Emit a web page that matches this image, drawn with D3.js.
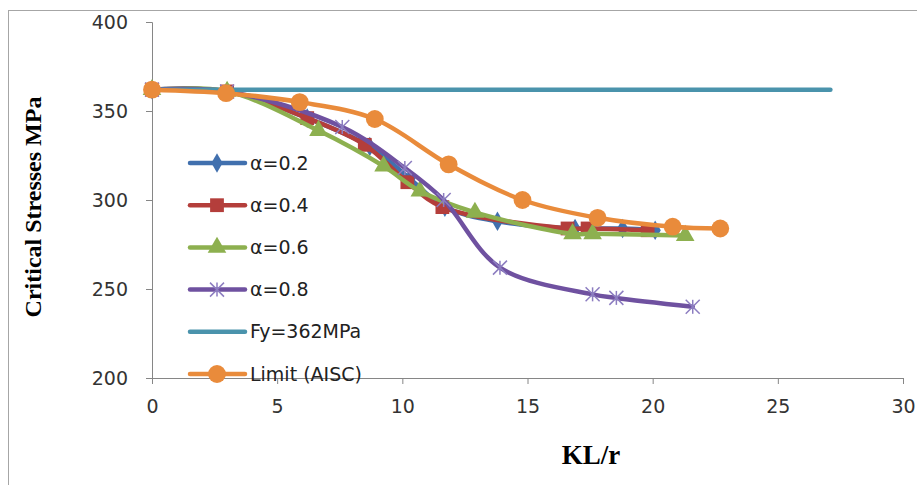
<!DOCTYPE html>
<html>
<head>
<meta charset="utf-8">
<script src="https://cdn.jsdelivr.net/npm/d3@7"></script>
<style>
  body { margin: 0; background: #fff; }
  svg { display: block; }
</style>
</head>
<body>
<div id="chart"></div>
<script>
// series data (KL/r, critical stress MPa)
var a02 = [[0, 362], [3, 361], [6.2, 346], [8.7, 330], [10.3, 312], [11.7, 296], [13.8, 288], [16.9, 284], [18.8, 284], [20.1, 283]];
var a04 = [[0, 362], [3, 361], [6.2, 346], [8.5, 331], [10.2, 310], [11.6, 296], [16.6, 284], [17.4, 284], [19.8, 283]];
var a06 = [[0, 362], [3, 361], [6.65, 339], [9.25, 319], [10.7, 305], [12.9, 293], [16.8, 281], [17.6, 281], [21.3, 280]];
var a08 = [[0, 362], [3, 361], [7.6, 341], [10.1, 318], [11.65, 300], [13.9, 262], [17.6, 247], [18.55, 245], [21.6, 240]];
var fy = [[0, 362], [27.1, 362]];
var aisc = [[0, 362], [2.96, 360], [5.9, 355], [8.9, 345.5], [11.85, 320], [14.8, 300], [17.8, 290], [20.8, 285], [22.7, 284]];

var names = ['α=0.2', 'α=0.4', 'α=0.6', 'α=0.8', 'Fy=362MPa', 'Limit (AISC)'];
var colors = ['#4170AE', '#B43E3B', '#8DB04F', '#6F51A0', '#4A93AC', '#E98B3B'];
var symbols = ['diamond', 'square', 'triangle', 'asterisk', 'none', 'circle'];
var xTicks = [0, 5, 10, 15, 20, 25, 30];
var yTicks = [200, 250, 300, 350, 400];

var width = 917, height = 485;

var svg = d3.select('#chart').append('svg')
  .attr('width', width)
  .attr('height', height);

// outer frame
svg.append('rect')
  .attr('x', 8.5).attr('y', 10.5)
  .attr('width', 920).attr('height', 490)
  .attr('fill', 'none')
  .attr('stroke', '#a6a6a6');

var x = d3.scaleLinear().domain([0, 30]).range([152, 903]);
var y = d3.scaleLinear().domain([200, 400]).range([378, 22]);

// axes
var xAxis = svg.append('g')
  .attr('transform', 'translate(0,378)')
  .call(d3.axisBottom(x).tickValues(xTicks).tickSize(6).tickPadding(16).tickFormat(d3.format('d')));
var yAxis = svg.append('g')
  .attr('transform', 'translate(152,0)')
  .call(d3.axisLeft(y).tickValues(yTicks).tickSize(6).tickPadding(18).tickFormat(d3.format('d')));

[xAxis, yAxis].forEach(function (ax) {
  ax.select('.domain').attr('stroke', '#868686');
  ax.selectAll('.tick line').attr('stroke', '#868686');
  ax.selectAll('.tick text')
    .attr('fill', '#333')
    .style('font-family', '"DejaVu Sans", sans-serif')
    .style('font-size', '19px');
});
yAxis.selectAll('.tick text').attr('dy', '0.35em');

// axis titles
svg.append('text')
  .attr('transform', 'translate(41,207) rotate(-90)')
  .attr('text-anchor', 'middle')
  .style('font-family', '"Liberation Serif", serif')
  .style('font-weight', 'bold')
  .style('font-size', '24px')
  .text('Critical  Stresses MPa');

svg.append('text')
  .attr('x', 591).attr('y', 464)
  .attr('text-anchor', 'middle')
  .style('font-family', '"Liberation Serif", serif')
  .style('font-weight', 'bold')
  .style('font-size', '27px')
  .text('KL/r');

var line = d3.line()
  .x(function (d) { return x(d[0]); })
  .y(function (d) { return y(d[1]); })
  .curve(d3.curveCatmullRom.alpha(0.5));

function marker(g, type, color, cx, cy) {
  if (type == 'none') return;
  if (type == 'asterisk') {
    var r = 7;
    [[-r, -r, r, r], [-r, r, r, -r], [0, -r, 0, r]].forEach(function (s) {
      g.append('line')
        .attr('x1', cx + s[0]).attr('y1', cy + s[1])
        .attr('x2', cx + s[2]).attr('y2', cy + s[3])
        .attr('stroke', '#8C7DC0').attr('stroke-width', 1.5);
    });
    return;
  }
  var sym = {
    diamond: d3.symbol().type(d3.symbolDiamond).size(110),
    square: d3.symbol().type(d3.symbolSquare).size(190),
    triangle: d3.symbol().type(d3.symbolTriangle).size(150),
    circle: d3.symbol().type(d3.symbolCircle).size(250)
  }[type];
  g.append('path')
    .attr('d', sym())
    .attr('transform', 'translate(' + cx + ',' + cy + ')')
    .attr('fill', color);
}

var series = [a02, a04, a06, a08, fy, aisc];
series.forEach(function (data, i) {
  var g = svg.append('g');
  g.append('path')
    .attr('d', line(data))
    .attr('fill', 'none')
    .attr('stroke', colors[i])
    .attr('stroke-width', 4.5)
    .attr('stroke-linecap', 'round');
  data.forEach(function (d) {
    marker(g, symbols[i], colors[i], x(d[0]), y(d[1]));
  });
});

// legend
var leg = svg.append('g');
names.forEach(function (name, i) {
  var ly = 163 + i * 42.2;
  leg.append('line')
    .attr('x1', 190).attr('x2', 245)
    .attr('y1', ly).attr('y2', ly)
    .attr('stroke', colors[i])
    .attr('stroke-width', 4.5)
    .attr('stroke-linecap', 'round');
  marker(leg, symbols[i], colors[i], 217, ly);
  leg.append('text')
    .attr('x', 250).attr('y', ly)
    .attr('dy', '0.35em')
    .attr('fill', '#222')
    .style('font-family', '"DejaVu Sans", sans-serif')
    .style('font-size', '19px')
    .text(name);
});
</script>
</body>
</html>
